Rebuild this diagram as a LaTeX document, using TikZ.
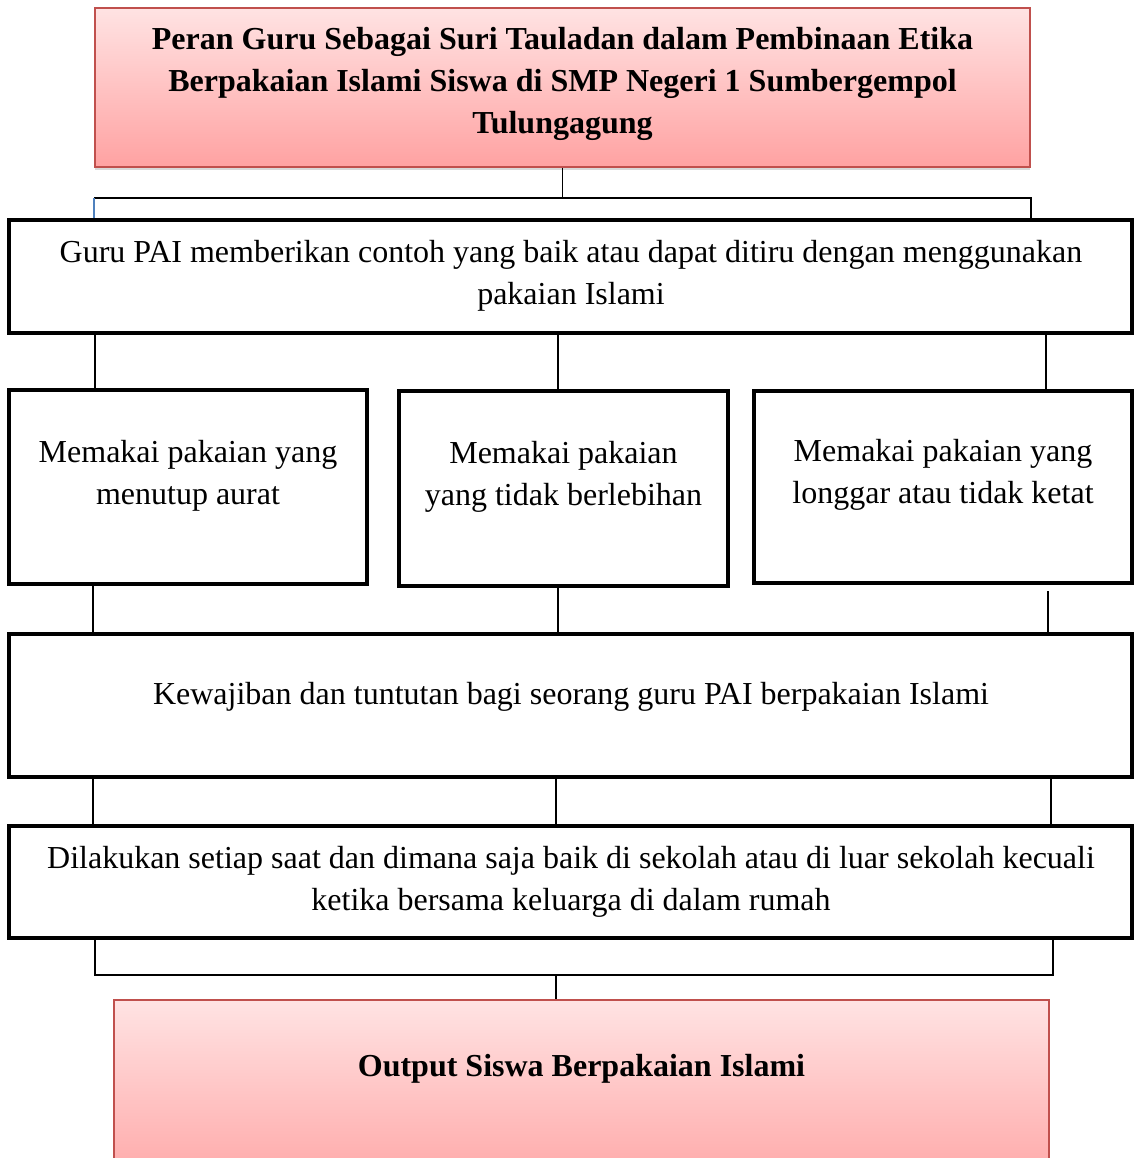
\documentclass[tikz,border=0pt]{standalone}
\usepackage{fontspec}
\setmainfont{Liberation Serif}
\usetikzlibrary{shadows}
\definecolor{pinktop}{HTML}{FFE3E3}
\definecolor{pinkbot}{HTML}{FFA2A2}
\definecolor{redline}{HTML}{C0504D}
\definecolor{blueline}{HTML}{4F81BD}

\begin{document}
\begin{tikzpicture}[x=1pt,y=-1pt,
        titlebox/.style={draw=redline, line width=1.5pt, top color=pinktop, bottom color=pinkbot,
            drop shadow={shadow xshift=0pt, shadow yshift=-3pt, opacity=0.3},
            minimum width=935pt, inner sep=0pt},
        blackbox/.style={draw, line width=4pt, inner sep=0pt},
        txt/.style={align=center, inner sep=0pt, font=\fontsize{32}{42}\selectfont},
        link/.style={line width=1.6pt}
    ]
    \useasboundingbox (0,0) rectangle (1134,1158);
    \clip (0,0) rectangle (1134,1158);
    % title
    \node[titlebox, minimum height=159pt] (title) at (562.5,87.5) {};
    \node[txt] (title-txt) at (562.5,84) {\textbf{Peran Guru Sebagai Suri Tauladan dalam Pembinaan Etika}\\
        \textbf{Berpakaian Islami Siswa di SMP Negeri 1 Sumbergempol}\\ \textbf{Tulungagung}};
    % main boxes
    \node[blackbox, minimum width=1123pt, minimum height=113pt] (guru) at (570.5,276.5) {};
    \node[txt] (guru-txt) at (571,276) {Guru PAI memberikan contoh yang baik atau dapat ditiru dengan menggunakan\\ pakaian Islami};
    \node[blackbox, minimum width=358pt, minimum height=194pt] (aurat) at (188,487) {};
    \node[txt] (aurat-txt) at (188,475.5) {Memakai pakaian yang\\ menutup aurat};
    \node[blackbox, minimum width=329pt, minimum height=195pt] (lebih) at (563.5,488.5) {};
    \node[txt] (lebih-txt) at (563.5,477) {Memakai pakaian\\ yang tidak berlebihan};
    \node[blackbox, minimum width=378pt, minimum height=192pt] (ketat) at (943,487) {};
    \node[txt] (ketat-txt) at (943,475) {Memakai pakaian yang\\ longgar atau tidak ketat};
    \node[blackbox, minimum width=1123pt, minimum height=143pt] (wajib) at (570.5,705.5) {};
    \node[txt] (wajib-txt) at (571,697) {Kewajiban dan tuntutan bagi seorang guru PAI berpakaian Islami};
    \node[blackbox, minimum width=1123pt, minimum height=112pt] (saat) at (570.5,882) {};
    \node[txt] (saat-txt) at (571,882) {Dilakukan setiap saat dan dimana saja baik di sekolah atau di luar sekolah kecuali\\ ketika bersama keluarga di dalam rumah};
    % output
    \node[titlebox, minimum height=200pt] (output) at (581.5,1100) {};
    \node[txt] (output-txt) at (581.5,1069) {\textbf{Output Siswa Berpakaian Islami}};

    % connectors
    \draw[link] (title.south) -- (title.south |- 0,198) coordinate (top-bar);
    \draw[link] (title.south west |- top-bar) -- (title.south east |- top-bar) -- (title.south east |- guru.north);
    \draw[link, blueline] (title.south west |- top-bar) -- (title.south west |- guru.north);
    \draw[link] (guru.south -| 95,0) -- (aurat.north -| 95,0);
    \draw[link] (guru.south -| 558,0) -- (lebih.north -| 558,0);
    \draw[link] (guru.south -| 1046,0) -- (ketat.north -| 1046,0);
    \draw[link] (aurat.south -| 93,0) -- (wajib.north -| 93,0);
    \draw[link] (lebih.south -| 558,0) -- (wajib.north -| 558,0);
    \draw[link] (ketat.south -| 1048,0) ++(0,6) -- (wajib.north -| 1048,0);
    \draw[link] (wajib.south -| 93,0) -- (saat.north -| 93,0);
    \draw[link] (wajib.south -| 556,0) -- (saat.north -| 556,0);
    \draw[link] (wajib.south -| 1051,0) -- (saat.north -| 1051,0);
    \draw[link] (saat.south -| 95,0) -- (95,975) -- (1053,975) -- (saat.south -| 1053,0);
    \draw[link] (556,975) -- (output.north -| 556,0);
\end{tikzpicture}
\end{document}
